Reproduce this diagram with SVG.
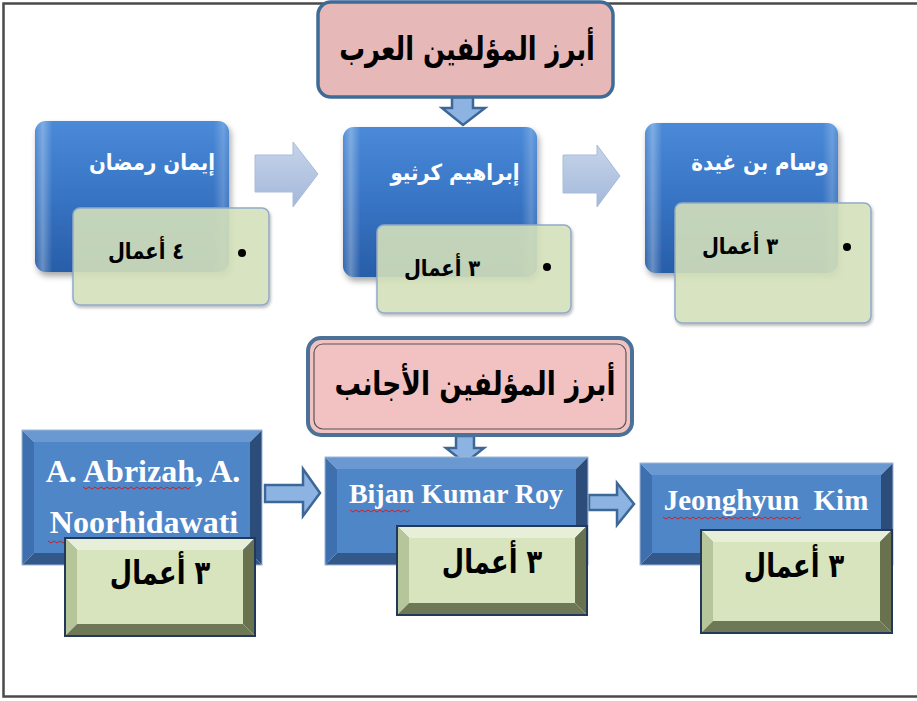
<svg xmlns="http://www.w3.org/2000/svg" width="917" height="701" viewBox="0 0 917 701">
<defs>
  <linearGradient id="gBlue" x1="0" y1="0" x2="0" y2="1">
    <stop offset="0" stop-color="#4A8AD8"/>
    <stop offset="0.5" stop-color="#3874C4"/>
    <stop offset="1" stop-color="#285EA8"/>
  </linearGradient>
  <linearGradient id="gGloss" x1="0" y1="0" x2="1" y2="0">
    <stop offset="0" stop-color="#ffffff" stop-opacity="0.05"/>
    <stop offset="0.04" stop-color="#ffffff" stop-opacity="0.3"/>
    <stop offset="0.09" stop-color="#ffffff" stop-opacity="0"/>
    <stop offset="0.92" stop-color="#ffffff" stop-opacity="0"/>
    <stop offset="0.97" stop-color="#ffffff" stop-opacity="0.2"/>
    <stop offset="1" stop-color="#ffffff" stop-opacity="0.05"/>
  </linearGradient>
  <linearGradient id="gArrow" x1="0" y1="0" x2="0" y2="1">
    <stop offset="0" stop-color="#C6D4EA"/>
    <stop offset="1" stop-color="#A3B8DA"/>
  </linearGradient>
  <filter id="sh" x="-10%" y="-10%" width="130%" height="130%">
    <feDropShadow dx="2" dy="4" stdDeviation="3" flood-color="#000" flood-opacity="0.35"/>
  </filter>
  <filter id="sh2" x="-10%" y="-10%" width="130%" height="130%">
    <feDropShadow dx="1" dy="2" stdDeviation="1.5" flood-color="#000" flood-opacity="0.3"/>
  </filter>
</defs>
<style>
  .frame{fill:none;stroke:#4a4a4a;stroke-width:2.5}
  .title{font-family:"DejaVu Sans",sans-serif;font-weight:bold;font-size:33px;fill:#000;text-anchor:middle}
  .glossy{fill:url(#gBlue);filter:url(#sh)}
  .gloss{fill:url(#gGloss)}
  .gnote{fill:#D7E4BD;fill-opacity:0.86;stroke:#8FA9CB;stroke-width:1.5}
  .wname{font-family:"DejaVu Sans",sans-serif;font-weight:bold;font-size:22px;fill:#fff;text-anchor:middle}
  .count{font-family:"DejaVu Sans",sans-serif;font-weight:bold;font-size:23px;fill:#000;text-anchor:middle}
  .countB{font-family:"DejaVu Sans",sans-serif;font-weight:bold;font-size:33px;fill:#000;text-anchor:middle}
  .ename{font-family:"Liberation Serif",serif;font-weight:bold;fill:#fff;text-anchor:middle}
  .bface{fill:#4F86C8}.btop{fill:#6A99D2}.bleft{fill:#3E6FAE}.bright{fill:#2C4D7A}.bbot{fill:#33588A}
  .gface{fill:#D7E4BD}.gtop{fill:#E8EFD9}.gleft{fill:#B6C59A}.gright{fill:#68724F}.gbot{fill:#6E7857}
  .bout{fill:none;stroke:#9DB6D6;stroke-width:1}
  .gout{fill:none;stroke:#22395A;stroke-width:2}
  .block{fill:url(#gArrow);stroke:#A9BCDA;stroke-width:1}
  .conn{fill:#8DB3E2;stroke:#3C6796;stroke-width:2.5;stroke-linejoin:miter}
  .squig{fill:none;stroke:#D02020;stroke-width:1}
</style>
<rect x="0" y="0" width="917" height="701" fill="#fff"/>
<rect class="frame" x="3.5" y="3.5" width="930" height="693"/>

<g id="connectors">
  <polygon class="conn" points="452,97 473,97 473,108 485,108 463,125 442,108 452,108"/>
  <polygon class="block" points="255,155 293,155 293,142 318,174 293,207 293,192 255,192"/>
  <polygon class="block" points="563,155 597,155 597,145 620,176 597,207 597,193 563,193"/>
  <polygon class="conn" points="456,436 474,436 474,448 484,448 465,463 446,448 456,448"/>
  <polygon class="conn" points="265,485 303,485 303,469 320,493 303,516 303,502 265,502"/>
  <polygon class="conn" points="589,495 617,495 617,483 634,504 617,525 617,510 589,510"/>
</g>

<g id="title-arab">
  <rect x="318" y="2" width="295" height="95" rx="13" fill="#E6B9B8" stroke="#3F6B99" stroke-width="3.5"/>
  <text class="title" transform="translate(467,60) scale(0.78,1)" direction="rtl">أبرز المؤلفين العرب</text>
</g>

<g id="node-eman">
  <rect class="glossy" x="35" y="121" width="194" height="151" rx="11"/>
  <rect class="gloss" x="35" y="121" width="194" height="151" rx="11"/>
  <text class="wname" transform="translate(152,170) scale(0.9,1)" direction="rtl">إيمان رمضان</text>
  <rect class="gnote" x="73" y="208" width="196" height="97" rx="7" filter="url(#sh2)"/>
  <text class="count" transform="translate(146,259) scale(0.85,1)" direction="rtl">٤ أعمال</text>
  <circle cx="242" cy="253" r="4" fill="#000"/>
</g>

<g id="node-ibrahim">
  <rect class="glossy" x="343" y="127" width="194" height="150" rx="11"/>
  <rect class="gloss" x="343" y="127" width="194" height="150" rx="11"/>
  <text class="wname" transform="translate(455,180) scale(0.9,1)" direction="rtl">إبراهيم كرثيو</text>
  <rect class="gnote" x="377" y="225" width="194" height="88" rx="7" filter="url(#sh2)"/>
  <text class="count" transform="translate(442,276) scale(0.85,1)" direction="rtl">٣ أعمال</text>
  <circle cx="547" cy="267" r="4" fill="#000"/>
</g>

<g id="node-wissam">
  <rect class="glossy" x="645" y="123" width="193" height="150" rx="11"/>
  <rect class="gloss" x="645" y="123" width="193" height="150" rx="11"/>
  <text class="wname" transform="translate(760,170) scale(0.9,1)" direction="rtl">وسام بن غيدة</text>
  <rect class="gnote" x="675" y="203" width="196" height="120" rx="7" filter="url(#sh2)"/>
  <text class="count" transform="translate(740,254) scale(0.85,1)" direction="rtl">٣ أعمال</text>
  <circle cx="847" cy="247" r="4" fill="#000"/>
</g>

<g id="title-foreign">
  <rect x="308" y="338" width="324" height="97" rx="13" fill="#F2C2C2" stroke="#4A7299" stroke-width="4"/>
  <rect x="314" y="344" width="312" height="85" rx="9" fill="none" stroke="#555" stroke-width="1.2"/>
  <text class="title" transform="translate(475,395) scale(0.8,1)" direction="rtl">أبرز المؤلفين الأجانب</text>
</g>

<g id="node-abrizah">
  <polygon class="btop" points="22,430 262,430 250,442 34,442"/>
  <polygon class="bleft" points="22,430 34,442 34,553 22,565"/>
  <polygon class="bright" points="262,430 262,565 250,553 250,442"/>
  <polygon class="bbot" points="22,565 262,565 250,553 34,553"/>
  <rect class="bface" x="34" y="442" width="216" height="111"/>
  <rect class="bout" x="22" y="430" width="240" height="135"/>
  <text class="ename" x="143" y="482" font-size="32">A. Abrizah, A.</text>
  <text class="ename" x="144" y="533" font-size="32">Noorhidawati</text>
  <path class="squig" d="M83,487 l3,2 l3,-2 l3,2 l3,-2 l3,2 l3,-2 l3,2 l3,-2 l3,2 l3,-2 l3,2 l3,-2 l3,2 l3,-2 l3,2 l3,-2 l3,2 l3,-2 l3,2 l3,-2 l3,2 l3,-2 l3,2 l3,-2 l3,2 l3,-2 l3,2 l3,-2 l3,2 l3,-2 l3,2 l3,-2 l3,2 l3,-2 l3,2 l3,-2"/>
  <path class="squig" d="M48,541 l3,2 l3,-2 l3,2 l3,-2 l3,2 l3,-2"/>
  <polygon class="gtop" points="65,538 255,538 243,550 77,550"/>
  <polygon class="gleft" points="65,538 77,550 77,624 65,636"/>
  <polygon class="gright" points="255,538 255,636 243,624 243,550"/>
  <polygon class="gbot" points="65,636 255,636 243,624 77,624"/>
  <rect class="gface" x="77" y="550" width="166" height="74"/>
  <rect class="gout" x="65" y="538" width="190" height="98"/>
  <text class="countB" transform="translate(160,584) scale(0.78,1)" direction="rtl">٣ أعمال</text>
</g>

<g id="node-bijan">
  <polygon class="btop" points="325,457 588,457 576,469 337,469"/>
  <polygon class="bleft" points="325,457 337,469 337,553 325,565"/>
  <polygon class="bright" points="588,457 588,565 576,553 576,469"/>
  <polygon class="bbot" points="325,565 588,565 576,553 337,553"/>
  <rect class="bface" x="337" y="469" width="239" height="84"/>
  <rect class="bout" x="325" y="457" width="263" height="108"/>
  <text class="ename" x="456" y="503" font-size="28">Bijan Kumar Roy</text>
  <path class="squig" d="M350,510 l3,2 l3,-2 l3,2 l3,-2 l3,2 l3,-2 l3,2 l3,-2 l3,2 l3,-2 l3,2 l3,-2 l3,2 l3,-2 l3,2 l3,-2 l3,2 l3,-2 l3,2 l3,-2"/>
  <polygon class="gtop" points="397,526 587,526 575,538 409,538"/>
  <polygon class="gleft" points="397,526 409,538 409,603 397,615"/>
  <polygon class="gright" points="587,526 587,615 575,603 575,538"/>
  <polygon class="gbot" points="397,615 587,615 575,603 409,603"/>
  <rect class="gface" x="409" y="538" width="166" height="65"/>
  <rect class="gout" x="397" y="526" width="190" height="89"/>
  <text class="countB" transform="translate(492,573) scale(0.78,1)" direction="rtl">٣ أعمال</text>
</g>

<g id="node-kim">
  <polygon class="btop" points="640,463 893,463 881,475 652,475"/>
  <polygon class="bleft" points="640,463 652,475 652,553 640,565"/>
  <polygon class="bright" points="893,463 893,565 881,553 881,475"/>
  <polygon class="bbot" points="640,565 893,565 881,553 652,553"/>
  <rect class="bface" x="652" y="475" width="229" height="78"/>
  <rect class="bout" x="640" y="463" width="253" height="102"/>
  <text class="ename" x="766" y="510" font-size="29" xml:space="preserve">Jeonghyun  Kim</text>
  <path class="squig" d="M663,517 l3,2 l3,-2 l3,2 l3,-2 l3,2 l3,-2 l3,2 l3,-2 l3,2 l3,-2 l3,2 l3,-2 l3,2 l3,-2 l3,2 l3,-2 l3,2 l3,-2 l3,2 l3,-2 l3,2 l3,-2 l3,2 l3,-2 l3,2 l3,-2 l3,2 l3,-2 l3,2 l3,-2 l3,2 l3,-2 l3,2 l3,-2 l3,2 l3,-2 l3,2 l3,-2 l3,2 l3,-2 l3,2 l3,-2 l3,2 l3,-2 l3,2 l3,-2"/>
  <polygon class="gtop" points="701,530 892,530 880,542 713,542"/>
  <polygon class="gleft" points="701,530 713,542 713,621 701,633"/>
  <polygon class="gright" points="892,530 892,633 880,621 880,542"/>
  <polygon class="gbot" points="701,633 892,633 880,621 713,621"/>
  <rect class="gface" x="713" y="542" width="167" height="79"/>
  <rect class="gout" x="701" y="530" width="191" height="103"/>
  <text class="countB" transform="translate(794,577) scale(0.78,1)" direction="rtl">٣ أعمال</text>
</g>
</svg>
